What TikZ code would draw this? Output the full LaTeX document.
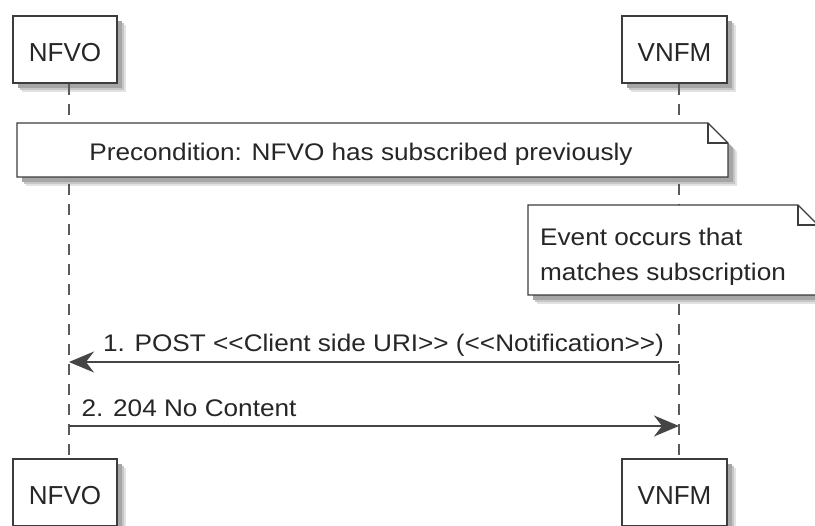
\documentclass[tikz,border=0pt]{standalone}
\usepackage{fontspec}
\setmainfont{Liberation Sans}
\newfontfamily\notefont[FakeStretch=1.09]{Liberation Sans}
\usetikzlibrary{arrows.meta}
\definecolor{bordc}{HTML}{3C3C3C}
\definecolor{linec}{HTML}{454545}
\definecolor{lifec}{HTML}{5A5A5A}
\definecolor{shAc}{HTML}{E2E2E2}
\definecolor{shBc}{HTML}{C6C6C6}
\definecolor{shCc}{HTML}{A6A6A6}
\tikzset{
  partbox/.style={draw=bordc,line width=1.6pt,fill=white,inner sep=0pt,
    minimum height=67pt,text height=24pt,text depth=0pt,
    font=\fontsize{26}{30}\selectfont,text=black!85},
  notebox/.style={draw=bordc,line width=1.3pt,fill=white,line join=miter},
  foldline/.style={draw=bordc,line width=1.3pt},
  lifeline/.style={draw=lifec,line width=1.4pt,dash pattern=on 11pt off 9pt},
  msg/.style={draw=linec,line width=1.6pt,-{Stealth[length=25pt,width=21pt,inset=8pt]}},
  msgtext/.style={inner sep=0pt,font=\notefont\fontsize{24}{35}\selectfont,text=black!85},
  shA/.style={fill=shAc},
  shB/.style={fill=shBc},
  shC/.style={fill=shCc},
}
\begin{document}
\begin{tikzpicture}[x=1pt,y=-1pt]
\fill[white] (0,0) rectangle (815,526);
\useasboundingbox (0,0) rectangle (815,526);
% shadows of participant boxes
\foreach \d/\s in {9/shA,7/shB,5/shC}{
  \fill[\s] (13+\d,16+\d) rectangle (117+\d,83+\d);
  \fill[\s] (622+\d,16+\d) rectangle (727+\d,83+\d);
  \fill[\s] (13+\d,459+\d) rectangle (117+\d,526+\d);
  \fill[\s] (622+\d,459+\d) rectangle (727+\d,526+\d);
  \fill[\s] (17+\d,123+\d) -- (708+\d,123+\d) -- (728+\d,143+\d) -- (728+\d,177+\d) -- (17+\d,177+\d) -- cycle;
  \fill[\s] (528+\d,205+\d) -- (798+\d,205+\d) -- (818+\d,225+\d) -- (818+\d,295+\d) -- (528+\d,295+\d) -- cycle;
}
% participants
\node[partbox,minimum width=104pt] (nfvoT) at (65,49.5) {NFVO};
\node[partbox,minimum width=105pt] (vnfmT) at (674.5,49.5) {VNFM};
\node[partbox,minimum width=104pt] (nfvoB) at (65,492.5) {NFVO};
\node[partbox,minimum width=105pt] (vnfmB) at (674.5,492.5) {VNFM};
% lifelines
\coordinate (nfvoX) at (69,0);
\coordinate (vnfmX) at (679,0);
\draw[lifeline] (nfvoX |- nfvoT.south) -- (nfvoX |- nfvoB.north);
\draw[lifeline] (vnfmX |- vnfmT.south) -- (vnfmX |- vnfmB.north);
% precondition note
\path[notebox] (17,123) -- (708,123) -- (728,143) -- (728,177) -- (17,177) -- cycle;
\draw[foldline] (708,123) -- (708,143) -- (728,143);
\node[msgtext,anchor=base] (pre) at (361,161) {Precondition: NFVO has subscribed previously};
% event note
\path[notebox] (528,205) -- (798,205) -- (818,225) -- (818,295) -- (528,295) -- cycle;
\draw[foldline] (798,205) -- (798,225) -- (818,225);
\node[msgtext,anchor=north west,align=left] (evt) at (540,227.6) {Event occurs that\\matches subscription};
% messages
\coordinate (m1) at (0,362);
\coordinate (m2) at (0,426);
\draw[msg] (vnfmX |- m1) -- (nfvoX |- m1);
\node[msgtext,anchor=base west] (m1t) at (103,352) {1. POST <<Client side URI>> (<<Notification>>)};
\draw[msg] (nfvoX |- m2) -- (vnfmX |- m2);
\node[msgtext,anchor=base west] (m2t) at (81.5,417) {2. 204 No Content};
\end{tikzpicture}
\end{document}
